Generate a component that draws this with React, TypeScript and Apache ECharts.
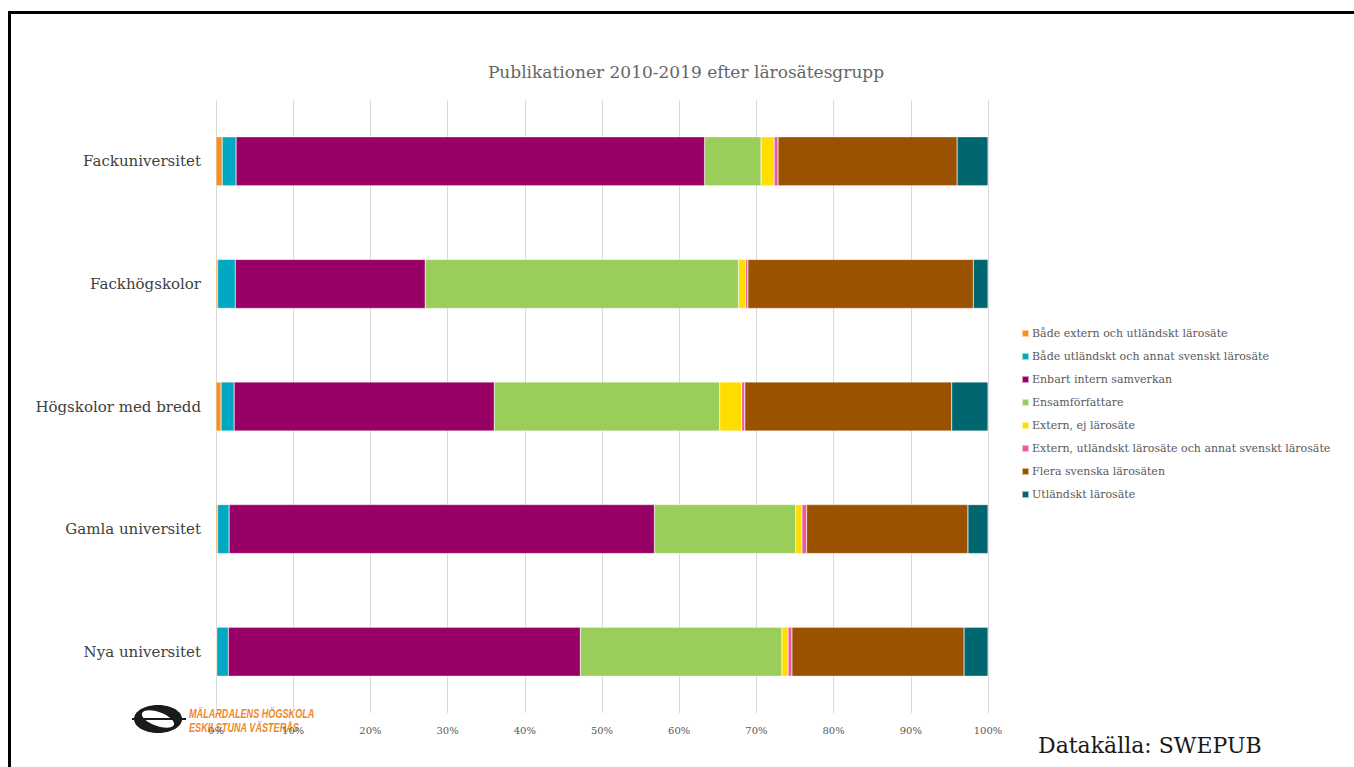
import React, { useEffect, useRef } from "react";
import * as echarts from "echarts";

const categories = [
  "Fackuniversitet",
  "Fackhögskolor",
  "Högskolor med bredd",
  "Gamla universitet",
  "Nya universitet",
];

const seriesNames = [
  "Både extern och utländskt lärosäte",
  "Både utländskt och annat svenskt lärosäte",
  "Enbart intern samverkan",
  "Ensamförfattare",
  "Extern, ej lärosäte",
  "Extern, utländskt lärosäte och annat svenskt lärosäte",
  "Flera svenska lärosäten",
  "Utländskt lärosäte",
];

const bothExternForeign = [0.8, 0.2, 0.65, 0.2, 0.1];
const bothForeignSwedish = [1.8, 2.3, 1.7, 1.5, 1.5];
const internalOnly = [60.7, 24.6, 33.7, 55.1, 45.6];
const singleAuthor = [7.3, 40.6, 29.2, 18.3, 26.1];
const externNonUni = [1.7, 0.9, 2.85, 0.8, 0.8];
const externForeignSwedish = [0.5, 0.3, 0.4, 0.6, 0.5];
const severalSwedish = [23.2, 29.2, 26.8, 20.9, 22.3];
const foreignUni = [4.0, 1.9, 4.7, 2.6, 3.1];

const seriesValues = [
  bothExternForeign,
  bothForeignSwedish,
  internalOnly,
  singleAuthor,
  externNonUni,
  externForeignSwedish,
  severalSwedish,
  foreignUni,
];

const colors = [
  "#F7901E",
  "#00A8C1",
  "#990066",
  "#9ACD5A",
  "#FFDD00",
  "#F0559E",
  "#9A5100",
  "#006670",
];

const xTicks = [0, 10, 20, 30, 40, 50, 60, 70, 80, 90, 100];

const serif = "'DejaVu Serif', 'Liberation Serif', serif";
const logoFont = "'Liberation Sans', sans-serif";

export default function App() {
  const ref = useRef<HTMLDivElement>(null);

  useEffect(() => {
    if (!ref.current) return;
    const chart = echarts.init(ref.current, undefined, { renderer: "svg" });
    chart.setOption({
      animation: false,
      backgroundColor: "#ffffff",
      color: colors,
      grid: { left: 216, right: 366, top: 100, bottom: 54, containLabel: false },
      legend: {
        orient: "vertical",
        left: 1016,
        top: 322,
        icon: "rect",
        itemWidth: 7,
        itemHeight: 7,
        itemGap: 10,
        selectedMode: false,
        data: seriesNames,
        textStyle: {
          fontFamily: serif,
          fontSize: 11,
          color: "#595959",
          lineHeight: 13,
          padding: [0, 0, 0, -2],
        },
      },
      xAxis: {
        type: "value",
        min: 0,
        max: xTicks[xTicks.length - 1],
        interval: 10,
        axisLine: { show: false },
        axisTick: { show: false },
        splitLine: { show: true, lineStyle: { color: "#d9d9d9", width: 1 } },
        axisLabel: {
          formatter: "{value}%",
          fontFamily: serif,
          fontSize: 10,
          color: "#595959",
          margin: 12,
        },
      },
      yAxis: {
        type: "category",
        data: categories,
        inverse: true,
        axisLine: { show: false },
        axisTick: { show: false },
        axisLabel: {
          fontFamily: serif,
          fontSize: 15,
          color: "#404040",
          margin: 15,
        },
      },
      series: seriesNames.map((name, i) => ({
        name,
        type: "bar",
        stack: "total",
        barWidth: 49,
        data: seriesValues[i],
        itemStyle: { color: colors[i], borderColor: "rgba(255,255,255,0.6)", borderWidth: 0.5 },
      })),
      graphic: [
        {
          type: "rect",
          z: 100,
          shape: { x: 9.5, y: 12.5, width: 1400, height: 800 },
          style: { fill: "none", stroke: "#000", lineWidth: 3 },
        },
        {
          type: "text",
          z: 100,
          x: 686,
          y: 72,
          style: {
            text: "Publikationer 2010-2019 efter lärosätesgrupp",
            fontFamily: serif,
            fontSize: 17,
            fill: "#666666",
            textAlign: "center",
            textVerticalAlign: "middle",
          },
        },
        {
          type: "text",
          z: 100,
          x: 1038,
          y: 745,
          style: {
            text: "Datakälla: SWEPUB",
            fontFamily: serif,
            fontSize: 22,
            fill: "#1a1a1a",
            textAlign: "left",
            textVerticalAlign: "middle",
          },
        },
        {
          type: "group",
          z: 100,
          children: [
            {
              type: "ellipse",
              x: 158,
              y: 719,
              shape: { cx: 0, cy: 0, rx: 24, ry: 14 },
              style: { fill: "#1a1a1a" },
            },
            {
              type: "ellipse",
              x: 158,
              y: 719,
              rotation: -0.35,
              shape: { cx: 0, cy: 0, rx: 17, ry: 7 },
              style: { fill: "#ffffff" },
            },
            {
              type: "line",
              shape: { x1: 132, y1: 719, x2: 186, y2: 719 },
              style: { stroke: "#1a1a1a", lineWidth: 2 },
            },
            {
              type: "text",
              x: 189,
              y: 713,
              scaleX: 0.7,
              style: {
                text: "MÄLARDALENS HÖGSKOLA",
                fontFamily: logoFont,
                fontWeight: "bold",
                fontStyle: "italic",
                fontSize: 13,
                fill: "#F0872A",
                textVerticalAlign: "middle",
              },
            },
            {
              type: "text",
              x: 189,
              y: 727,
              scaleX: 0.7,
              style: {
                text: "ESKILSTUNA VÄSTERÅS",
                fontFamily: logoFont,
                fontWeight: "bold",
                fontStyle: "italic",
                fontSize: 13,
                fill: "#F0872A",
                textVerticalAlign: "middle",
              },
            },
          ],
        },
      ],
    });
    return () => chart.dispose();
  }, []);

  return (
    <div
      ref={ref}
      style={{ position: "absolute", left: 0, top: 0, width: 1354, height: 767 }}
    />
  );
}
